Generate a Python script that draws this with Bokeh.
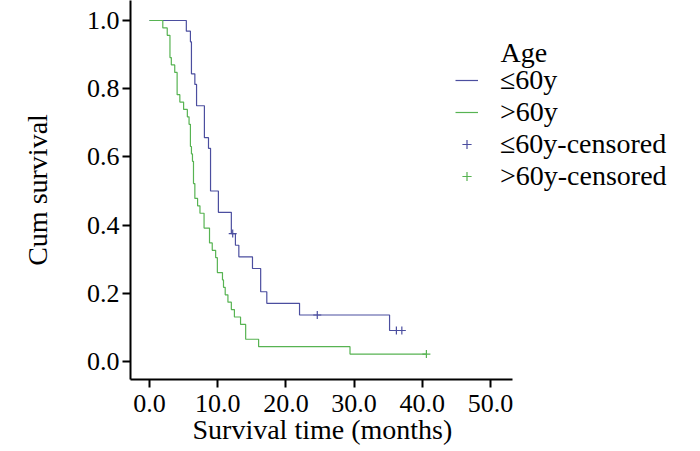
from bokeh.plotting import figure
from bokeh.models import Range1d, FixedTicker, PrintfTickFormatter, Legend, LegendItem, Label, Title
from bokeh.embed import file_html
from bokeh.resources import INLINE

# ---- data (months) ----
young_death_times = [5.4, 6.0, 6.15, 6.15, 6.15, 6.65, 6.9, 6.9, 8.05, 8.05, 8.05,
                     8.65, 8.95, 8.95, 8.95, 8.95, 10.1, 10.1, 12.0, 12.0, 12.6,
                     13.1, 15.1, 16.3, 16.3, 17.2, 22.0, 35.2]
young_censor_times = [12.2, 24.6, 36.2, 37.0]

old_death_times = [1.95, 2.6, 3.0, 3.0, 3.0, 3.2, 3.7, 4.05, 4.05, 4.05, 4.45, 5.0,
                   5.55, 5.8, 6.0, 6.0, 6.0, 6.15, 6.3, 6.45, 6.45, 6.45, 6.65, 6.65,
                   7.05, 7.4, 8.0, 8.0, 8.8, 8.8, 9.2, 9.7, 9.95, 9.95, 10.7, 10.85,
                   11.1, 11.5, 12.0, 12.45, 13.35, 14.1, 14.1, 16.0, 29.4]
old_censor_times = [40.6]

group_labels = ["≤60y", ">60y", "≤60y-censored", ">60y-censored"]
legend_title = "Age"
x_title = "Survival time (months)"
y_title = "Cum survival"
x_ticks = [0, 10, 20, 30, 40, 50]
y_ticks = [0.0, 0.2, 0.4, 0.6, 0.8, 1.0]

BLUE = "#4b4e9f"
GREEN = "#57b352"
FONT = "Liberation Serif"


def kaplan_meier(deaths, censors):
    events = sorted([(t, 1) for t in deaths] + [(t, 0) for t in censors])
    at_risk = len(events)
    s = 1.0
    xs, ys = [0.0], [1.0]
    cx, cy = [], []
    times = sorted(set(t for t, _ in events))
    for t in times:
        d = sum(1 for tt, e in events if tt == t and e == 1)
        c = sum(1 for tt, e in events if tt == t and e == 0)
        if d:
            s *= (at_risk - d) / at_risk
            xs.append(t)
            ys.append(s)
        if c:
            cx.append(t)
            cy.append(s)
        at_risk -= d + c
    xs.append(times[-1])
    ys.append(s)
    return xs, ys, cx, cy


W, H = 700, 451
LEFT, BOTTOM = 130, 72
frame_w = W - LEFT
frame_h = H - BOTTOM
x0 = -2.786
x_axis_end = 53.2
ppx = 6.82      # pixels per month
y_bottom = -0.0528
ppy = 341.0     # pixels per unit survival

p = figure(width=W, height=H, output_backend="svg", toolbar_location=None,
           min_border_left=LEFT, min_border_right=0, min_border_top=0, min_border_bottom=BOTTOM,
           x_range=Range1d(x0, x0 + frame_w / ppx),
           y_range=Range1d(y_bottom, y_bottom + frame_h / ppy))
p.outline_line_color = None
p.xgrid.visible = False
p.ygrid.visible = False
p.background_fill_color = "white"
p.border_fill_color = "white"

yx, yy, ycx, ycy = kaplan_meier(young_death_times, young_censor_times)
ox, oy, ocx, ocy = kaplan_meier(old_death_times, old_censor_times)

r1 = p.step(yx, yy, mode="after", line_color=BLUE, line_width=1.2)
r2 = p.step(ox, oy, mode="after", line_color=GREEN, line_width=1.2)
r3 = p.scatter(ycx, ycy, marker="cross", size=8, line_color=BLUE, line_width=1.2)
r4 = p.scatter(ocx, ocy, marker="cross", size=8, line_color=GREEN, line_width=1.2)

for ax in (p.xaxis[0], p.yaxis[0]):
    ax.axis_line_width = 2
    ax.axis_line_color = "black"
    ax.major_tick_line_width = 2
    ax.major_tick_line_color = "black"
    ax.major_tick_in = 0
    ax.major_tick_out = 8
    ax.minor_tick_line_color = None
    ax.major_label_text_font = FONT
    ax.major_label_text_font_size = "26px"
    ax.major_label_text_color = "black"
    ax.axis_label_text_font = FONT
    ax.axis_label_text_font_size = "28px"
    ax.axis_label_text_font_style = "normal"
    ax.axis_label_text_color = "black"
    ax.formatter = PrintfTickFormatter(format="%.1f")

p.xaxis[0].ticker = FixedTicker(ticks=x_ticks)
p.yaxis[0].ticker = FixedTicker(ticks=y_ticks)
p.xaxis[0].bounds = (x0, x_axis_end)
p.yaxis[0].axis_label = y_title
p.xaxis[0].major_label_standoff = 7
p.yaxis[0].major_label_standoff = 3
p.yaxis[0].axis_label_standoff = 31

# x-axis title, placed under the drawn (bounded) axis rather than the whole frame
p.add_layout(Title(text=x_title, align="left", offset=62,
                   standoff=-6, text_font=FONT, text_font_size="28px",
                   text_font_style="normal", text_color="black"), "below")

legend = Legend(items=[LegendItem(label=group_labels[0], renderers=[r1]),
                       LegendItem(label=group_labels[1], renderers=[r2]),
                       LegendItem(label=group_labels[2], renderers=[r3]),
                       LegendItem(label=group_labels[3], renderers=[r4])],
                location=(325, 187), orientation="vertical",
                border_line_color=None, background_fill_alpha=0,
                padding=0, margin=0, spacing=0,
                glyph_width=23, glyph_height=32, label_height=32, label_standoff=22,
                label_text_font=FONT, label_text_font_size="28px", label_text_color="black")
p.add_layout(legend, "center")

p.add_layout(Label(x=370, y=frame_h - 51.7, x_units="screen", y_units="screen", text=legend_title,
                   text_font=FONT, text_font_size="28px", text_color="black",
                   text_baseline="middle", text_align="left"))

open("out.html", "w").write(file_html(p, INLINE))
